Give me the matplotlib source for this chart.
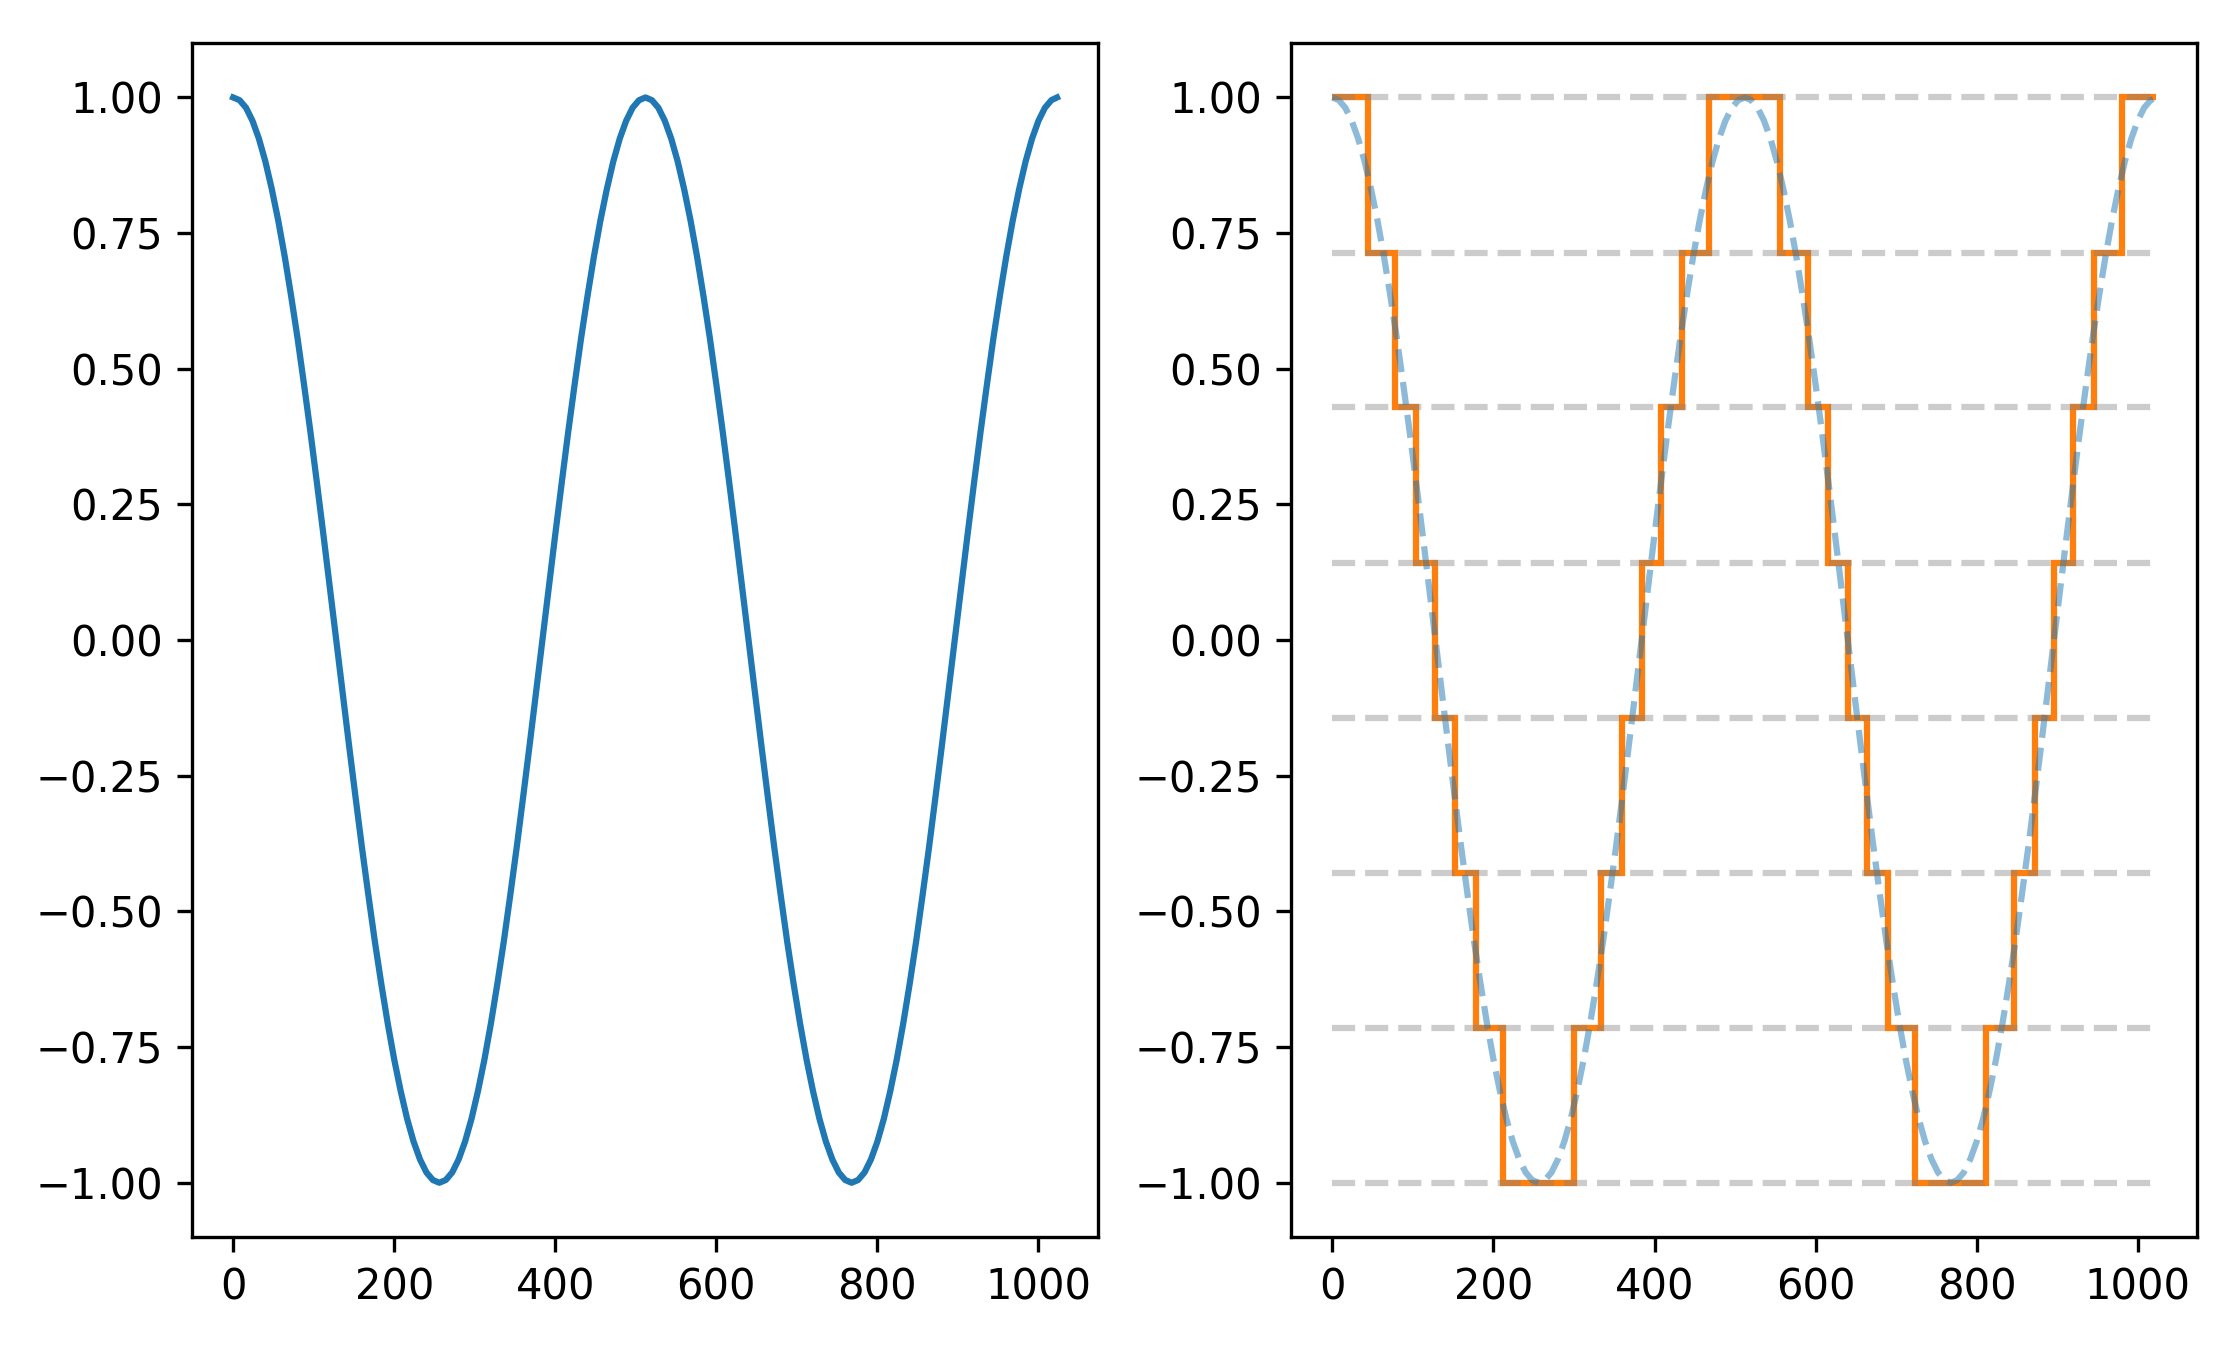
import matplotlib
matplotlib.use('Agg')
import matplotlib.pyplot as plt

# cosine samples (every 8th sample, last one at 1023)
sample_x = list(range(0, 1024, 8)) + [1023]
sample_y = [
    1.000, 0.995, 0.981, 0.957, 0.924, 0.882, 0.831, 0.773, 0.707, 0.634, 0.556, 0.471, 0.383, 0.290, 0.195, 0.098,
    0.000, -0.098, -0.195, -0.290, -0.383, -0.471, -0.556, -0.634, -0.707, -0.773, -0.831, -0.882, -0.924, -0.957, -0.981, -0.995,
    -1.000, -0.995, -0.981, -0.957, -0.924, -0.882, -0.831, -0.773, -0.707, -0.634, -0.556, -0.471, -0.383, -0.290, -0.195, -0.098,
    0.000, 0.098, 0.195, 0.290, 0.383, 0.471, 0.556, 0.634, 0.707, 0.773, 0.831, 0.882, 0.924, 0.957, 0.981, 0.995,
    1.000, 0.995, 0.981, 0.957, 0.924, 0.882, 0.831, 0.773, 0.707, 0.634, 0.556, 0.471, 0.383, 0.290, 0.195, 0.098,
    0.000, -0.098, -0.195, -0.290, -0.383, -0.471, -0.556, -0.634, -0.707, -0.773, -0.831, -0.882, -0.924, -0.957, -0.981, -0.995,
    -1.000, -0.995, -0.981, -0.957, -0.924, -0.882, -0.831, -0.773, -0.707, -0.634, -0.556, -0.471, -0.383, -0.290, -0.195, -0.098,
    0.000, 0.098, 0.195, 0.290, 0.383, 0.471, 0.556, 0.634, 0.707, 0.773, 0.831, 0.882, 0.924, 0.957, 0.981, 0.995,
    1.000]

# quantisation levels (grey dashed lines)
levels = [-1.000, -0.714, -0.429, -0.143, 0.143, 0.429, 0.714, 1.000]

# quantised signal: step edges and the level held between them
step_edges = [0, 44, 78, 104, 128, 152, 178, 212, 300, 334, 360, 384, 408, 434,
              468, 556, 590, 616, 640, 664, 690, 724, 812, 846, 872, 896, 920,
              946, 980, 1023]
step_vals = [1.000, 0.714, 0.429, 0.143, -0.143, -0.429, -0.714, -1.000,
             -0.714, -0.429, -0.143, 0.143, 0.429, 0.714, 1.000,
             0.714, 0.429, 0.143, -0.143, -0.429, -0.714, -1.000,
             -0.714, -0.429, -0.143, 0.143, 0.429, 0.714, 1.000]

fig, (ax1, ax2) = plt.subplots(1, 2, figsize=(2240/300, 1350/300), dpi=300)
fig.subplots_adjust(left=0.0857, right=0.981, top=0.968, bottom=0.0837, wspace=0.213)

ax1.plot(sample_x, sample_y, color='C0', lw=1.5)

ax2.plot(sample_x, sample_y, color='C0', lw=1.5, ls='--', alpha=0.5)
ax2.stairs(step_vals, step_edges, color='C1', lw=1.5, baseline=None)
ax2.hlines(levels, 0, 1023, colors='gray', linestyles='--', lw=1.5, alpha=0.4)

fig.savefig('out.png', dpi=300)
